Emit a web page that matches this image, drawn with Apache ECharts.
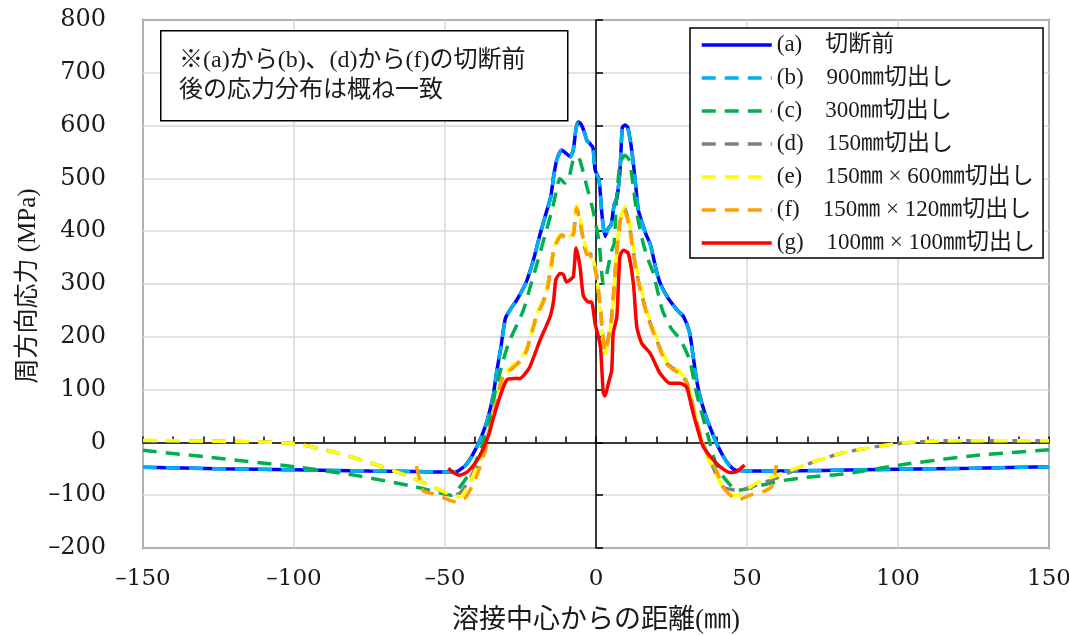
<!DOCTYPE html>
<html><head><meta charset="utf-8">
<script src="https://cdn.jsdelivr.net/npm/echarts@6/dist/echarts.min.js"></script>
<style>html,body{margin:0;padding:0;background:#fff}#c{width:1069px;height:635px}</style>
</head><body><div id="c"></div>
<script>
const seriesNames = ['(a)　切断前','(b)　900㎜切出し','(c)　300㎜切出し','(d)　150㎜切出し','(e)　150㎜ × 600㎜切出し','(f)　150㎜ × 120㎜切出し','(g)　100㎜ × 100㎜切出し'];
const xTitle = '溶接中心からの距離(㎜)';
const yTitle = '周方向応力 (MPa)';
const noteText = '※(a)から(b)、(d)から(f)の切断前\n後の応力分布は概ね一致';

const sA = [[-150,-47],[-125,-50],[-100,-52],[-75,-54],[-60,-55],[-50,-56],[-46,-55],[-43,-42],[-40.5,-20],[-38,10],[-36,42],[-34,90],[-33,130],[-31.5,180],[-30,235],[-28,255],[-26,272],[-23,305],[-20.5,350],[-18.5,395],[-16.5,435],[-15,465],[-14,505],[-13,535],[-11.4,554],[-10,548],[-8.5,541],[-7.5,555],[-6.6,595],[-5.9,607],[-5,603],[-4,590],[-3,572],[-2,566],[-1,558],[-0.3,516],[1,498],[2,430],[3,390],[4,405],[5,412],[6,450],[7,465],[8,520],[8.7,596],[9.6,601],[10.5,597],[11.8,555],[13,495],[14,440],[15,421],[16.5,395],[18,375],[20,325],[21.5,298],[24,272],[27,250],[29,238],[31,208],[32,170],[33.5,112],[35,75],[37,40],[40,-2],[42,-25],[44,-42],[46,-52],[50,-54],[60,-54],[75,-53],[100,-51],[125,-49],[150,-46]];
const sB = [[-150,-47],[-125,-50],[-100,-52],[-75,-54],[-60,-55],[-50,-56],[-46,-55],[-43,-43],[-40.5,-21],[-38,9],[-36,41],[-34,89],[-33,129],[-31.5,179],[-30,234],[-28,255],[-26,271],[-23,304],[-20.5,349],[-18.5,394],[-16.5,434],[-15,464],[-14,504],[-13,534],[-11.4,553],[-10,547],[-8.5,541],[-7.5,554],[-6.6,594],[-5.9,605],[-5,602],[-4,589],[-3,571],[-2,565],[-1,557],[-0.3,515],[1,497],[2,428],[3,389],[4,404],[5,411],[6,449],[7,464],[8,519],[8.7,595],[9.6,600],[10.5,596],[11.8,554],[13,494],[14,439],[15,420],[16.5,394],[18,374],[20,324],[21.5,297],[24,271],[27,249],[29,237],[31,207],[32,169],[33.5,111],[35,74],[37,39],[40,-3],[42,-26],[44,-43],[46,-52],[50,-54],[60,-54],[75,-53],[100,-51],[125,-49],[150,-46]];
const sC = [[-150,-15],[-125,-30],[-100,-46],[-80,-62],[-60,-84],[-55,-91],[-50,-98],[-48,-100],[-45,-84],[-42,-60],[-40.5,-46],[-37.5,-2],[-35,50],[-33,105],[-30.5,160],[-28.5,194],[-26,225],[-24,251],[-22,290],[-19.8,333],[-17,390],[-14.3,446],[-13,480],[-12,500],[-10.3,491],[-9,500],[-7.5,535],[-5.9,541],[-4.7,522],[-3,484],[-1,440],[1,380],[2.4,301],[3.5,318],[5,360],[6,377],[6.8,460],[8,530],[9.6,544],[11,535],[12,500],[13.5,434],[15.5,380],[17,350],[19,320],[22,250],[25,215],[28,194],[31,156],[33.3,93],[36.6,23],[40,-46],[43,-71],[46.6,-91],[50,-88],[60,-74],[70,-66],[83,-59],[104,-40],[127,-24],[150,-14]];
const sD = [[-150,3],[-125,2],[-100,-2],[-85,-21],[-74,-40],[-63,-62],[-54,-84],[-47.5,-100],[-45,-96],[-42,-71],[-39.5,-45],[-37.5,-21],[-34.2,49],[-31,124],[-29,136],[-27.6,143],[-25,155],[-23,175],[-19.8,238],[-16.5,282],[-13.7,371],[-11.4,393],[-9.2,387],[-7.5,396],[-6.4,446],[-5.3,420],[-3.1,358],[-2,358],[-0.9,345],[0.3,314],[1.5,250],[3,175],[4,195],[5.2,238],[6.8,358],[8,420],[9.6,443],[11.3,402],[13.5,320],[16.8,245],[20.1,194],[23.4,150],[27.8,131],[30,115],[31.1,93],[34.4,17],[37.7,-33],[42,-84],[45.5,-90],[47,-91],[50,-87],[61,-65],[72,-37],[83,-18],[100,-2],[116,3],[150,3]];
const sE = [[-150,4],[-125,2],[-100,-2],[-85,-21],[-74,-40],[-63,-62],[-54,-84],[-47.2,-101],[-45,-103],[-42,-78],[-39.5,-48],[-37.5,-22],[-34.2,47],[-31,122],[-29,136],[-27.6,145],[-25,158],[-23,178],[-19.8,240],[-16.5,286],[-13.7,374],[-11.4,395],[-9.2,389],[-7.5,398],[-6.4,448],[-5.3,424],[-3.1,362],[-2,360],[-0.9,346],[0.3,312],[1.5,245],[3,168],[4,190],[5.2,236],[6.8,356],[8,425],[9.6,446],[11.3,410],[13.5,330],[16.8,250],[20.1,198],[23.4,155],[27.8,133],[30,118],[31.1,95],[34.4,15],[37.7,-38],[42,-84],[45.5,-100],[48,-98],[53,-77],[61,-60],[72,-37],[83,-18],[100,-2],[116,3],[150,3]];
const sF = [[-59.5,-45],[-58.3,-71],[-57.2,-92],[-54,-97],[-50,-106],[-46.3,-113],[-43,-103],[-39.6,-65],[-36.3,-8],[-34.2,46],[-31,122],[-29,134],[-27.6,141],[-25,154],[-23,174],[-19.8,236],[-16.5,280],[-13.7,370],[-11.4,392],[-9.2,385],[-7.5,394],[-6.4,444],[-5.3,418],[-3.1,356],[-2,355],[-0.9,342],[0.3,310],[1.5,247],[3,172],[4,192],[5.2,236],[6.8,356],[8,418],[9.3,441],[11.3,400],[13.5,318],[16.8,243],[20.1,192],[23.4,148],[27.8,129],[30,113],[31.1,91],[34.4,15],[37.7,-33],[40,-55],[42,-84],[44.5,-100],[47,-109],[51,-100],[55.4,-93],[58.1,-84],[59.3,-55],[59.8,-43]];
const sG = [[-48.9,-49],[-47,-58],[-45.2,-62],[-43.5,-59],[-41.9,-52],[-39.5,-35],[-37.5,-14],[-35.5,15],[-34.2,42],[-31.8,87],[-29.6,118],[-27,121],[-25.2,121],[-23.5,130],[-21.9,143],[-18.5,194],[-15.2,238],[-14,270],[-13.3,308],[-11.9,320],[-10.8,318],[-9.8,304],[-8.6,308],[-7.5,314],[-6.6,368],[-5.3,333],[-4.2,278],[-2.5,266],[-1.5,266],[-0.3,225],[0.8,200],[1.5,180],[2.4,95],[3,88],[4.1,112],[5.2,137],[5.7,207],[6.9,238],[7.9,352],[9,364],[10.7,358],[12.4,300],[13.5,219],[15.1,188],[17.9,169],[21.2,131],[24.5,112],[27.8,112],[30,105],[32.2,55],[35.5,-8],[39.9,-40],[42.5,-52],[44.4,-57],[46.6,-55],[49.2,-43]];

const xTickMin = -150, xTickMax = 150, xTickStep = 50;
const yTickMin = -200, yTickMax = 800, yTickStep = 100;

const colors = ['#0000ff','#00b0f0','#00b050','#808080','#ffff00','#ffa000','#ff0000'];
const dashed = [false,true,true,true,true,true,false];
const allData = [sA,sB,sC,sD,sE,sF,sG];

const numFont = "'DejaVu Serif','Noto Sans CJK JP',serif";
const txtFont = "'Liberation Serif','Noto Sans CJK JP',serif";
const minusFmt = v => (v < 0 ? '\u2013' + Math.abs(v) : String(v));

const chart = echarts.init(document.getElementById('c'));
chart.setOption({
  animation: false,
  backgroundColor: '#fff',
  grid: { left: 143, right: 20, top: 20, bottom: 87, show: true, borderColor: '#000', borderWidth: 1.5, backgroundColor: 'transparent', containLabel: false, outerBoundsMode: 'none' },
  xAxis: [
    { type: 'value', min: xTickMin, max: xTickMax, interval: xTickStep, position: 'bottom',
      axisLine: { show: false, onZero: false }, axisTick: { show: false },
      splitLine: { show: true, lineStyle: { color: '#d9d9d9', width: 1.5 } },
      axisLabel: { margin: 20, fontSize: 23, color: '#1a1a1a', fontFamily: numFont, formatter: minusFmt },
      name: xTitle, nameLocation: 'middle', nameGap: 59,
      nameTextStyle: { fontSize: 27, color: '#1a1a1a', fontFamily: txtFont } },
    { type: 'value', min: xTickMin, max: xTickMax, interval: 10, position: 'bottom',
      axisLine: { show: true, onZero: true, onZeroAxisIndex: 0, lineStyle: { color: '#000', width: 1.5 } },
      axisTick: { show: true, inside: true, length: 6, lineStyle: { color: '#000', width: 1.5 } },
      axisLabel: { show: false }, splitLine: { show: false } }
  ],
  yAxis: [
    { type: 'value', min: yTickMin, max: yTickMax, interval: yTickStep, position: 'left',
      axisLine: { show: false, onZero: false }, axisTick: { show: false },
      splitLine: { show: true, lineStyle: { color: '#d9d9d9', width: 1.5 } },
      axisLabel: { margin: 37, fontSize: 24, color: '#1a1a1a', fontFamily: numFont, formatter: minusFmt } },
    { type: 'value', min: yTickMin, max: yTickMax, interval: yTickStep, position: 'left',
      axisLine: { show: true, onZero: true, onZeroAxisIndex: 0, lineStyle: { color: '#000', width: 1.5 } },
      axisTick: { show: true, inside: true, length: 7, lineStyle: { color: '#000', width: 1.5 } },
      axisLabel: { show: false }, splitLine: { show: false } }
  ],
  legend: {
    orient: 'vertical', left: 690, top: 28,
    backgroundColor: '#fff', borderColor: '#000', borderWidth: 1.5,
    padding: [5.5, 8, 3.5, 10], itemGap: 10, itemWidth: 70, itemHeight: 14,
    itemStyle: { opacity: 0 },
    lineStyle: { width: 3.5 },
    textStyle: { fontSize: 23, color: '#1a1a1a', fontFamily: txtFont },
    data: seriesNames
  },
  graphic: [
    { type: 'text', x: 28, y: 286, rotation: Math.PI / 2, z: 50,
      style: { text: yTitle, font: "25px 'Liberation Serif','Noto Sans CJK JP',serif", fill: '#1a1a1a', align: 'center', verticalAlign: 'middle' } },
    { type: 'rect', left: 160, top: 30, z: 100, shape: { width: 407, height: 90 },
      style: { fill: '#fff', stroke: '#000', lineWidth: 1.5 } },
    { type: 'text', left: 179, top: 46, z: 101,
      style: { text: noteText, font: "24px 'Liberation Serif','Noto Sans CJK JP',serif", fill: '#1a1a1a', lineHeight: 30 } }
  ],
  series: allData.map((d, i) => ({
    name: seriesNames[i], type: 'line', data: d, xAxisIndex: 0, yAxisIndex: 0,
    showSymbol: false, symbol: 'none', smooth: 0.2,
    lineStyle: { color: colors[i], width: 3.5, type: dashed[i] ? [14, 9] : 'solid', cap: 'butt' },
    itemStyle: { color: colors[i] }, z: 10 + i
  }))
});
</script></body></html>
